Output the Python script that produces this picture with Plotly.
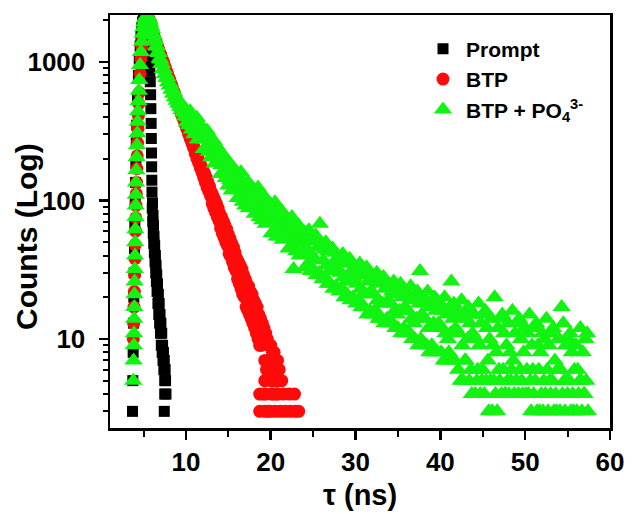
import numpy as np
import plotly.graph_objects as go

# ---------------- data ----------------
# Prompt (instrument response), black squares
prompt_time_ns = [3.7, 3.74, 3.78, 3.82, 3.86, 3.9, 3.94, 3.98, 4.02, 4.06,
                  4.1, 4.15, 4.2, 4.3, 4.4, 4.5, 4.6, 4.7, 4.8, 4.9,
                  5.0, 5.1, 5.2, 5.3, 5.4, 5.5, 5.6, 5.7, 5.75, 5.8,
                  5.84, 5.87, 5.9, 5.92, 5.94, 5.96, 5.98,
                  6.0, 6.03, 6.06, 6.09, 6.12, 6.15, 6.18, 6.21, 6.24, 6.28,
                  6.32, 6.36, 6.4, 6.44, 6.48, 6.52, 6.56, 6.6, 6.65, 6.7,
                  6.75, 6.8, 6.85, 6.9, 6.95, 7.0, 7.05, 7.1, 7.15, 7.2,
                  7.25, 7.3, 7.35, 7.4, 7.45, 7.5, 7.55, 7.6, 7.65, 7.5,
                  7.45]
prompt_counts = [3, 5, 8, 13, 20, 30, 45, 65, 95, 135,
                 185, 260, 350, 560, 800, 1050, 1300, 1550, 1780, 1950,
                 2050, 2080, 2000, 1850, 1650, 1420, 1200, 1000, 860, 720,
                 580, 460, 360, 280, 220, 175, 140,
                 115, 88, 96, 70, 78, 58, 66, 49, 55, 42,
                 47, 36, 40, 30, 34, 26, 29, 22, 25, 18,
                 21, 15, 18, 13, 15, 11, 13, 9, 11, 8,
                 9, 7, 8, 6, 7, 5, 6, 5, 4, 4,
                 3]

# BTP, red circles
btp_rise_time_ns = [3.8, 3.84, 3.88, 3.92, 3.96, 4.0, 4.03, 4.06, 4.09, 4.12,
                    4.15, 4.18, 4.22, 4.26, 4.3, 4.35, 4.4, 4.45, 4.5, 4.6,
                    4.7, 4.8, 4.9, 5.0, 5.1, 5.2, 5.3, 5.4, 5.5]
btp_rise_counts = [10, 13, 17, 22, 29, 38, 48, 60, 75, 92,
                   112, 135, 170, 210, 260, 330, 410, 500, 600, 820,
                   1050, 1280, 1500, 1700, 1860, 1980, 2060, 2100, 2080]
btp_decay_start_ns = 5.6
btp_channel_ns = 0.1
btp_decay_counts = [
    2060, 2010, 1940, 1890,
    1690, 1610, 1570, 1490, 1440, 1380, 1330, 1270, 1230, 1170,
    1140, 1090, 1050, 1010, 975, 930, 900, 860, 830, 795,
    765, 740, 705, 680, 655, 625, 605, 580, 555, 535,
    515, 495, 475, 458, 440, 420, 406, 388, 374, 358,
    346, 330, 322, 305, 296, 280, 274, 260, 252, 240,
    240, 218, 220, 200, 205, 186, 190, 172, 178, 160,
    168, 146, 157, 135, 147, 124, 136, 116, 126, 108,
    115, 95, 108, 88, 101, 82, 95, 76, 88, 71,
    80, 63, 76, 58, 71, 54, 66, 50, 62, 47,
    57, 41, 53, 39, 49, 36, 46, 33, 42, 31,
    38, 27, 36, 25, 34, 23, 32, 21, 29, 20,
    27, 17, 25, 16, 24, 15, 22, 14, 21, 13,
    19, 12, 18, 11, 17, 10, 15, 9, 14, 9,
    13, 4, 12, 7, 11, 6, 10, 3, 9, 6,
    9, 5, 8, 4, 8, 5, 7, 4, 7, 5,
    6]
btp_floor_time_ns = [18.7, 19.3, 19.9, 20.5, 21.1, 21.7, 22.3, 22.9, 23.3,
                     18.7, 19.4, 20.1, 20.8, 21.5, 22.2, 22.8,
                     19.3, 20.0, 20.7, 21.3]
btp_floor_counts = [3, 3, 3, 3, 3, 3, 3, 3, 3,
                    4, 4, 4, 4, 4, 4, 4,
                    5, 5, 5, 5]

# BTP + PO4(3-), green triangles
po4_rise_time_ns = [3.8, 3.83, 3.86, 3.88, 3.9, 3.92, 3.94, 3.96, 3.98, 4.0,
                    4.02, 4.04, 4.06, 4.08, 4.1, 4.13, 4.16, 4.2, 4.24, 4.28,
                    4.32, 4.36, 4.4, 4.45, 4.5, 4.6, 4.7, 4.8, 4.9, 5.0,
                    5.1, 5.2, 5.3, 5.4, 5.5]
po4_rise_counts = [5, 7, 9, 11, 14, 17, 21, 26, 32, 40,
                   50, 62, 76, 92, 110, 135, 165, 205, 250, 305,
                   370, 440, 520, 620, 740, 950, 1180, 1400, 1600, 1780,
                   1930, 2050, 2120, 2160, 2150]
po4_decay_start_ns = 5.6
po4_channel_ns = 0.1
po4_decay_counts = [
    2080, 1990, 1900, 1800,
    1720, 1600, 1560, 1450, 1420, 1310, 1290, 1180, 1160, 1060,
    1040, 970, 965, 890, 885, 820, 815, 765, 775, 715,
    715, 675, 685, 630, 635, 590, 605, 555, 565, 525,
    545, 500, 515, 475, 495, 450, 465, 430, 450, 405,
    455, 365, 400, 430, 350, 440, 370, 325, 395, 345,
    300, 385, 320, 395, 275, 340, 360, 280, 310, 335,
    330, 235, 275, 305, 240, 320, 255, 225, 285, 250,
    205, 265, 215, 270, 185, 230, 250, 190, 210, 230,
    220, 155, 180, 200, 158, 210, 168, 145, 180, 158,
    128, 178, 140, 180, 118, 160, 172, 122, 138, 155,
    155, 104, 126, 142, 108, 160, 118, 98, 132, 112,
    92, 130, 102, 136, 88, 118, 128, 90, 104, 122,
    120, 80, 96, 110, 82, 124, 92, 76, 106, 86,
    72, 100, 80, 106, 68, 90, 100, 70, 82, 94,
    94, 58, 74, 86, 60, 97, 70, 55, 82, 64,
    55, 80, 62, 84, 52, 71, 79, 54, 64, 74,
    73, 45, 58, 67, 46, 76, 55, 32, 64, 50,
    43, 63, 49, 66, 40, 56, 62, 42, 50, 58,
    59, 33, 45, 53, 35, 61, 42, 31, 51, 38,
    32, 54, 38, 56, 29, 46, 52, 30, 68, 48,
    48, 27, 37, 44, 28, 50, 34, 25, 43, 31,
    25, 43, 31, 45, 23, 36, 42, 24, 33, 39,
    39, 22, 30, 36, 23, 41, 28, 20, 35, 26,
    21, 36, 26, 38, 19, 31, 35, 20, 28, 33,
    33, 18, 25, 30, 19, 35, 23, 17, 29, 21,
    17, 31, 21, 33, 15, 26, 30, 16, 22, 28,
    28, 15, 21, 26, 16, 30, 19, 14, 25, 18,
    14, 27, 18, 28, 13, 23, 26, 14, 19, 24,
    24, 13, 18, 22, 13, 26, 16, 12, 21, 15,
    12, 24, 16, 25, 11, 20, 23, 12, 17, 21,
    22, 11, 16, 20, 11, 24, 14, 10, 19, 13,
    10, 21, 14, 22, 9, 18, 31, 10, 15, 19,
    20, 9, 14, 18, 9, 22, 12, 8, 17, 12,
    9, 19, 13, 20, 8, 16, 19, 8, 13, 17,
    18, 8, 12, 16, 7, 20, 11, 7, 15, 10,
    8, 17, 11, 26, 7, 14, 18, 7, 12, 16,
    16, 6, 11, 15, 5, 19, 9, 5, 14, 7,
    7, 16, 10, 17, 5, 13, 6, 4, 11, 15,
    15, 4, 10, 5, 6, 18, 9, 4, 13, 5,
    6, 15, 4, 16, 5, 12, 7, 3, 10, 5,
    14, 3, 9, 5, 20, 4, 8, 3, 12, 6,
    5, 14, 4, 15, 6, 11, 4, 4, 9, 5,
    13, 4, 8, 5, 6, 16, 7, 4, 11, 5,
    5, 13, 4, 14, 6, 10, 5, 4, 8, 12,
    12, 4, 6, 11, 4, 15, 5, 3, 9, 6,
    4, 12, 5, 13, 3, 9, 6, 3, 8, 4,
    11, 3, 5, 10, 4, 14, 6, 3, 9, 5,
    4, 11, 5, 12, 3, 7, 4, 3, 6, 10,
    10, 3, 6, 17, 4, 13, 5, 3, 9, 5,
    4, 10, 5, 11, 3, 8, 4, 3, 6, 9,
    9, 3, 6, 4, 5, 12, 5, 3, 8, 4,
    4, 10, 5, 11, 3]

x_tick_values = [10, 20, 30, 40, 50, 60]
x_minor_values = [5, 15, 25, 35, 45, 55]
y_tick_values = [10, 100, 1000]
y_tick_labels = ["10", "100", "1000"]
y_minor_values = [3, 4, 5, 6, 7, 8, 9, 20, 30, 40, 50, 60, 70, 80, 90,
                  200, 300, 400, 500, 600, 700, 800, 900, 2000]

series_names = ["Prompt", "BTP", "BTP + PO<sub>4</sub><sup>3-</sup>"]

# ---------------- assemble ----------------
def channels(start, step, n):
    return list(np.round(start + step * np.arange(n), 3))

btp_t = btp_rise_time_ns + channels(btp_decay_start_ns, btp_channel_ns, len(btp_decay_counts)) + btp_floor_time_ns
btp_c = btp_rise_counts + btp_decay_counts + btp_floor_counts
po4_t = po4_rise_time_ns + channels(po4_decay_start_ns, po4_channel_ns, len(po4_decay_counts))
po4_c = po4_rise_counts + po4_decay_counts

FONT = "Liberation Sans, Arial, sans-serif"

fig = go.Figure()
fig.add_trace(go.Scatter(x=prompt_time_ns, y=prompt_counts, mode="markers", name=series_names[0],
                         marker=dict(symbol="square", size=11, color="#000000", line=dict(width=0))))
fig.add_trace(go.Scatter(x=btp_t, y=btp_c, mode="markers", name=series_names[1],
                         marker=dict(symbol="circle", size=13, color="#ff0a0a", line=dict(width=0))))
fig.add_trace(go.Scatter(x=po4_t, y=po4_c, mode="markers", name=series_names[2],
                         marker=dict(symbol="triangle-up", size=16, color="#11f311", line=dict(width=0))))

axis_common = dict(
    showgrid=False, zeroline=False, showline=True, linecolor="black", linewidth=2.5,
    mirror=True, ticks="outside", ticklen=9, tickwidth=2.5, tickcolor="black",
    tickfont=dict(family=FONT, size=26, color="black", weight="bold"),
)

fig.update_xaxes(range=[1.05, 60], tickmode="array", tickvals=x_tick_values,
                 ticklabelstandoff=0,
                 minor=dict(tickmode="array", tickvals=x_minor_values, ticks="outside",
                            ticklen=6, tickwidth=2, tickcolor="black"),
                 **axis_common)
fig.update_yaxes(type="log", range=[0.357, 3.339], tickmode="array",
                 tickvals=y_tick_values, ticktext=y_tick_labels,
                 ticklabelstandoff=8,
                 minor=dict(tickmode="array", tickvals=y_minor_values, ticks="outside",
                            ticklen=5, tickwidth=2, tickcolor="black"),
                 **axis_common)

fig.update_layout(
    width=636, height=514,
    margin=dict(l=110, r=19, t=15, b=86),
    paper_bgcolor="white", plot_bgcolor="white",
    hovermode=False,
    legend=dict(x=0.62, y=0.967, xanchor="left", yanchor="top",
                font=dict(family=FONT, size=21, color="black", weight="bold"),
                bgcolor="rgba(0,0,0,0)", itemwidth=36),
    annotations=[
        dict(text="Counts (Log)", xref="paper", yref="paper", x=-0.166, y=0.4625,
             textangle=-90, showarrow=False, xanchor="center", yanchor="middle",
             font=dict(family=FONT, size=30, color="black", weight="bold")),
        dict(text="τ (ns)", xref="paper", yref="paper", x=0.5, y=-0.162,
             showarrow=False, xanchor="center", yanchor="middle",
             font=dict(family=FONT, size=29, color="black", weight="bold")),
    ],
)

fig.write_html("out.html",
               config={"displayModeBar": False, "staticPlot": True},
               post_script="document.body.style.margin='0px';document.body.style.padding='0px';document.body.style.overflow='hidden';")
